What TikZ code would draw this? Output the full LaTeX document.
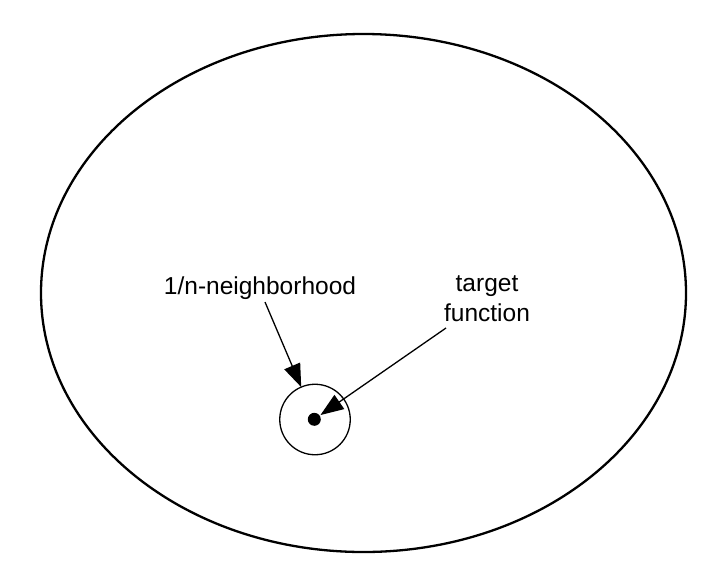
\documentclass[tikz,border=0pt]{standalone}
\usepackage{fontspec}
\setmainfont{Liberation Sans}
\usetikzlibrary{arrows.meta,shapes.geometric}
\begin{document}
\begin{tikzpicture}[x=1pt,y=-1pt,
  lbl/.style={font=\fontsize{24.5}{29.4}\selectfont, inner sep=0pt, outer sep=0pt},
  ptr/.style={line width=1.3pt, -{Triangle[length=23pt,width=17pt]}}]
  \useasboundingbox (0,0) rectangle (714,579);
  \fill[white] (0,0) rectangle (714,579);
  % big ellipse
  \node[draw, line width=2.3pt, ellipse, minimum width=645pt, minimum height=518pt, inner sep=0pt] (space) at (363.5,293) {};
  % neighborhood circle and target point
  \node[draw, line width=1.3pt, circle, minimum size=70.5pt, inner sep=0pt, outer sep=0pt] (nbh) at (315,419.5) {};
  \node[fill, circle, minimum size=13pt, inner sep=0pt, outer sep=1pt] (tgt) at (314.3,419.3) {};
  % labels
  \node[lbl, anchor=base] (nblabel) at (260,294) {1/n-neighborhood};
  \node[lbl, anchor=base, align=center] (tflabel) at (487,321) {target\\function};
  \coordinate (a1) at (265,302);
  \coordinate (a2) at (446,328);
  \draw[ptr] (a1) -- (nbh);
  \draw[ptr] (a2) -- (tgt);
\end{tikzpicture}
\end{document}
